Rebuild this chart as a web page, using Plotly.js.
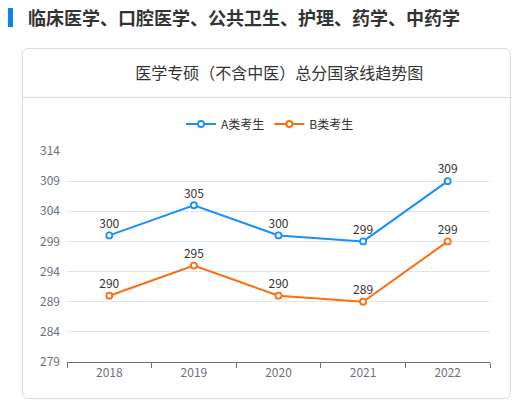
<!DOCTYPE html>
<html>
<head>
<meta charset="utf-8">
<script src="https://cdn.plot.ly/plotly-3.0.1.min.js"></script>
<style>
  html, body { margin:0; padding:0; background:#fff; width:530px; height:414px; overflow:hidden; font-family:"Noto Sans CJK SC","Noto Sans",sans-serif; }
  #bar { position:absolute; left:8px; top:8px; width:5px; height:19px; background:#0a84f0; }
  #head { position:absolute; left:28px; top:3px; font-size:18px; font-weight:bold; color:#333; line-height:28px; white-space:nowrap; }
  #card { position:absolute; left:22px; top:48px; width:487px; height:349px; border:1px solid #dcdcdc; border-radius:6px; background:#fff; }
  #sep { position:absolute; left:0; top:48px; width:100%; height:1px; background:#dcdcdc; }
  #plot { position:absolute; left:0; top:0; width:530px; height:414px; }
</style>
</head>
<body>
<div id="bar"></div>
<div id="head">临床医学、口腔医学、公共卫生、护理、药学、中药学</div>
<div id="card"><div id="sep"></div></div>
<div id="plot"></div>
<script>
const chartTitle = "医学专硕（不含中医）总分国家线趋势图";
const years = ["2018", "2019", "2020", "2021", "2022"];
const seriesA = [300, 305, 300, 299, 309];
const seriesB = [290, 295, 290, 289, 299];
const nameA = "A类考生";
const nameB = "B类考生";
const yTicks = [279, 284, 289, 294, 299, 304, 309, 314];

const font = "Noto Sans CJK SC, Noto Sans, sans-serif";
function trace(y, name, color) {
  return {
    x: years, y: y, name: name, type: "scatter", mode: "lines+markers+text",
    text: y.map(String), textposition: "top center",
    textfont: {family: font, size: 12, color: "#333"},
    line: {color: color, width: 2},
    marker: {symbol: "circle", size: 6, color: "#fff", line: {color: color, width: 1.8}},
    cliponaxis: false
  };
}
const data = [trace(seriesA, nameA, "#1890ff"), trace(seriesB, nameB, "#ff6d0a")];
const layout = {
  width: 530, height: 414,
  paper_bgcolor: "rgba(0,0,0,0)", plot_bgcolor: "rgba(0,0,0,0)",
  margin: {l: 67, r: 40, t: 151, b: 52},
  font: {family: font, size: 12, color: "#6e7079"},
  title: {text: chartTitle, font: {family: font, size: 16, color: "#333"}, x: 0.502, xref: "paper", xanchor: "center", y: 1 - 73/414, yref: "container", yanchor: "middle"},
  showlegend: true,
  legend: {orientation: "h", x: 0.48, xanchor: "center", y: 1 + (151-124)/211, yanchor: "middle", font: {family: font, size: 12, color: "#333"}, itemwidth: 30, traceorder: "normal"},
  xaxis: {
    type: "category", range: [-0.5, 4.5], tickson: "boundaries",
    showline: true, linecolor: "#6e7079", linewidth: 1,
    ticks: "outside", ticklen: 5, tickcolor: "#6e7079",
    showgrid: false, zeroline: false, fixedrange: true,
    tickfont: {family: font, size: 12, color: "#6e7079"}
  },
  yaxis: {
    range: [279, 314], tickmode: "array", tickvals: yTicks, ticktext: yTicks.map(String),
    showline: false, showgrid: true, gridcolor: "#e0e6f1", gridwidth: 1, zeroline: false,
    ticks: "", ticklabelstandoff: 6, fixedrange: true,
    tickfont: {family: font, size: 12, color: "#6e7079"}
  }
};
Plotly.newPlot("plot", data, layout, {displayModeBar: false, staticPlot: true});
</script>
</body>
</html>
